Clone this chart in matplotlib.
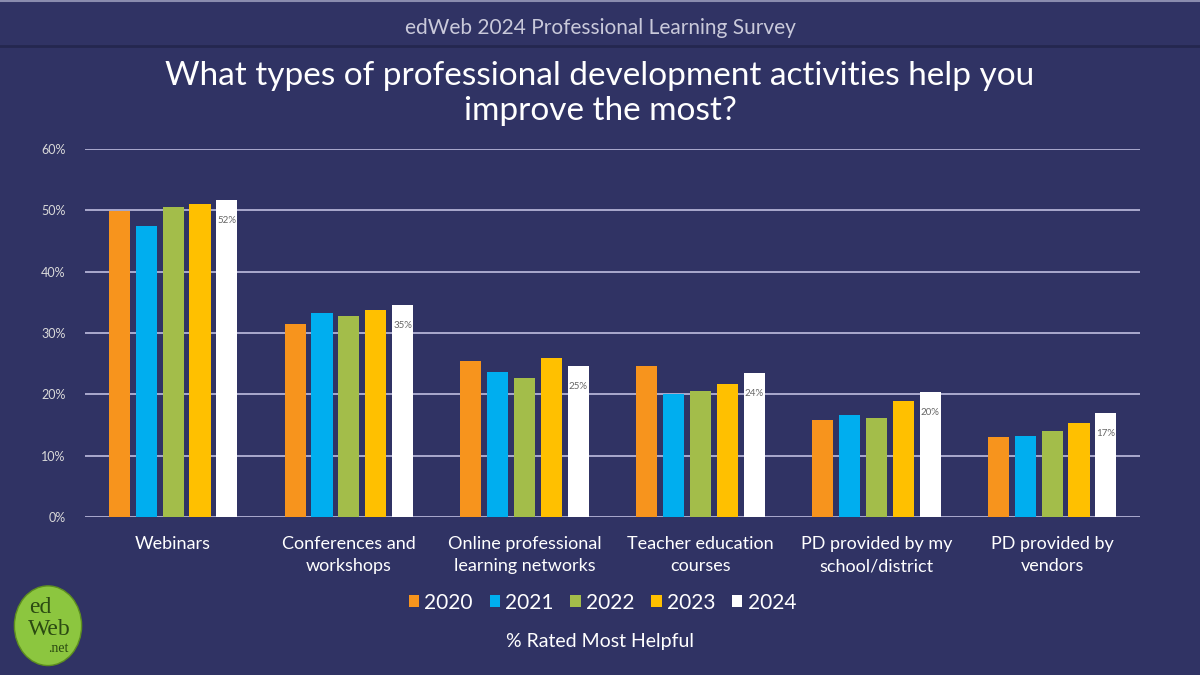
import numpy as np
import matplotlib.pyplot as plt
from matplotlib.patches import Ellipse
from matplotlib.lines import Line2D

plt.rcParams['font.family'] = ['Lato', 'DejaVu Sans']

categories = ['Webinars', 'Conferences and\nworkshops', 'Online professional\nlearning networks',
              'Teacher education\ncourses', 'PD provided by my\nschool/district', 'PD provided by\nvendors']
years = ['2020', '2021', '2022', '2023', '2024']
v2020 = [49.9, 31.5, 25.4, 24.6, 15.8, 13.0]
v2021 = [47.4, 33.3, 23.6, 20.1, 16.6, 13.2]
v2022 = [50.6, 32.8, 22.7, 20.6, 16.1, 14.0]
v2023 = [51.1, 33.8, 25.9, 21.7, 18.9, 15.3]
v2024 = [51.7, 34.6, 24.7, 23.5, 20.4, 17.0]
labels_2024 = ['52%', '35%', '25%', '24%', '20%', '17%']

series = [v2020, v2021, v2022, v2023, v2024]
colors = ['#F7941D', '#00AEEF', '#A3BD4A', '#FFC000', '#FFFFFF']
bg = '#303364'

fig = plt.figure(figsize=(12, 6.75), dpi=100)
fig.patch.set_facecolor(bg)

# header
fig.add_artist(Line2D([0, 1], [0.998, 0.998], color='#8a8cae', lw=1.5, transform=fig.transFigure))
fig.add_artist(Line2D([0, 1], [0.932, 0.932], color='#24274f', lw=2, transform=fig.transFigure))
fig.text(0.5, 0.958, 'edWeb 2024 Professional Learning Survey', ha='center', va='center',
         color='#c9c9da', fontsize=15)
fig.text(0.5, 0.862, 'What types of professional development activities help you\nimprove the most?',
         ha='center', va='center', color='white', fontsize=24, linespacing=1.2)

ax = fig.add_axes([0.071, 0.234, 0.879, 0.545])
ax.set_facecolor(bg)
x = np.arange(len(categories))
w = 0.12
step = 0.153
for i, (vals, c, yr) in enumerate(zip(series, colors, years)):
    ax.bar(x + (i - 2) * step, vals, width=w, color=c, label=yr, zorder=3)

for xi, v, lab in zip(x, v2024, labels_2024):
    ax.annotate(lab, (xi + 2 * step, v), xytext=(0, -15), textcoords='offset points',
                ha='center', va='center', fontsize=7, color='#666666', zorder=4)

ax.set_ylim(0, 60)
ax.set_xlim(-0.5, len(categories) - 0.5)
ax.set_yticks(range(0, 61, 10))
ax.set_yticklabels([f'{t}%' for t in range(0, 61, 10)], color='#d9d9d9', fontsize=9)
ax.yaxis.grid(True, color='#b3b3d6', lw=1.3, zorder=0)
ax.set_xticks(x)
ax.set_xticklabels(categories, color='white', fontsize=13, linespacing=1.45)
ax.tick_params(length=0, axis='both')
ax.tick_params(axis='y', pad=14)
ax.tick_params(axis='x', pad=14)
for s in ax.spines.values():
    s.set_visible(False)

leg = fig.legend(loc='center', bbox_to_anchor=(0.502, 0.107), ncol=5, frameon=False,
                 fontsize=15, handlelength=0.5, handleheight=0.5, handletextpad=0.25,
                 columnspacing=0.8)
for t in leg.get_texts():
    t.set_color('white')

fig.text(0.5, 0.049, '% Rated Most Helpful', ha='center', va='center', color='white', fontsize=14)

# logo
fig.add_artist(Ellipse((0.040, 0.073), 0.056, 0.118, transform=fig.transFigure,
                       facecolor='#8CC63F', edgecolor='#5d8f1f', lw=1))
fig.text(0.034, 0.100, 'ed', ha='center', va='center', fontsize=17, color='#2b4a12',
         family='Liberation Serif')
fig.text(0.041, 0.068, 'Web', ha='center', va='center', fontsize=17, color='#2b4a12',
         family='Liberation Serif')
fig.text(0.049, 0.040, '.net', ha='center', va='center', fontsize=10, color='#2b4a12',
         family='Liberation Serif')

fig.savefig('out.png', dpi=100, facecolor=bg)
